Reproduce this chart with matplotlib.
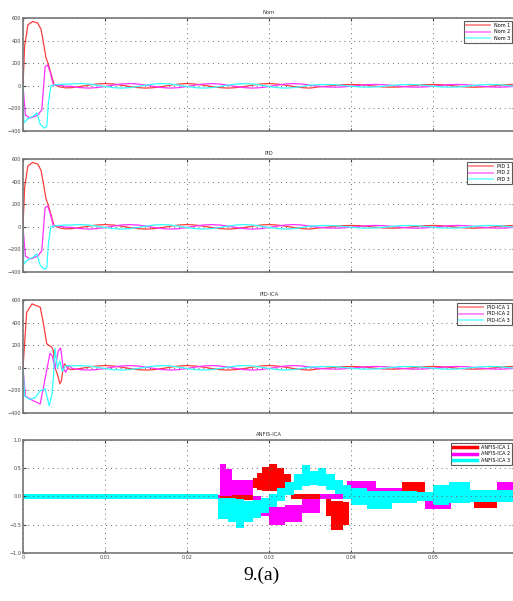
import numpy as np
import matplotlib
matplotlib.use('Agg')
import matplotlib.pyplot as plt

# ---------------- data ----------------
# transient part (t < 0.006), panel "Nom" and "PID" look the same
nom_red_t  = [0, 0.0002, 0.0006, 0.0012, 0.0018, 0.0022, 0.0025, 0.0028, 0.0031, 0.0034, 0.0038, 0.0045, 0.0052]
nom_red_v  = [0, 350, 540, 570, 555, 500, 380, 250, 190, 110, 10, -10, -18]
nom_mag_t  = [0, 0.0003, 0.0009, 0.0018, 0.0023, 0.0027, 0.0030, 0.0033, 0.0037, 0.0045, 0.0052]
nom_mag_v  = [0, -260, -285, -260, -210, 170, 185, 125, 10, 5, -4]
nom_cyan_t = [0, 0.0001, 0.0006, 0.0012, 0.0017, 0.0021, 0.0026, 0.0029, 0.0031, 0.0034, 0.0040, 0.0050]
nom_cyan_v = [0, -330, -290, -270, -240, -340, -375, -360, -150, 0, 10, 15]

ica_red_t  = [0, 0.00045, 0.0011, 0.0021, 0.0025, 0.0029, 0.0035, 0.0037, 0.0039, 0.0043, 0.0045, 0.0047, 0.0049, 0.0051, 0.0055]
ica_red_v  = [0, 490, 566, 537, 390, 212, 183, 153, 6, -83, -142, -112, 6, 35, -9]
ica_mag_t  = [0, 0.0003, 0.0012, 0.0021, 0.0033, 0.0036, 0.0039, 0.0043, 0.0046, 0.0049, 0.0052, 0.0056]
ica_mag_v  = [0, -250, -290, -320, 130, 100, -10, 150, 175, 0, -40, 20]
ica_cyan_t = [0, 0.0002, 0.0008, 0.0015, 0.0021, 0.0027, 0.0032, 0.0035, 0.0037, 0.0039, 0.0042, 0.0045, 0.0048, 0.0052]
ica_cyan_v = [0, -250, -280, -263, -204, -186, -336, -250, -100, 170, 0, 60, -30, 20]

# steady oscillation, t = 0.006 ... 0.060 (step 0.001), same in the three upper panels
steady_t = [0.006, 0.007, 0.008, 0.009, 0.010, 0.011, 0.012, 0.013, 0.014, 0.015,
            0.016, 0.017, 0.018, 0.019, 0.020, 0.021, 0.022, 0.023, 0.024, 0.025,
            0.026, 0.027, 0.028, 0.029, 0.030, 0.031, 0.032, 0.033, 0.034, 0.035,
            0.036, 0.037, 0.038, 0.039, 0.040, 0.041, 0.042, 0.043, 0.044, 0.045,
            0.046, 0.047, 0.048, 0.049, 0.050, 0.051, 0.052, 0.053, 0.054, 0.055,
            0.056, 0.057, 0.058, 0.059, 0.060]
steady_red  = [-16, -6, 6, 16, 20, 16, 6, -6, -16, -20,
               -16, -6, 6, 16, 20, 16, 6, -6, -16, -20,
               -16, -6, 6, 16, 20, 16, 6, -6, -16, -20,
               -10, -4, 4, 10, 12, 10, 4, -4, -10, -12,
               -10, -4, 4, 10, 12, 10, 4, -4, -10, -12,
               -10, -4, 4, 10, 12]
steady_mag  = [-6, -16, -20, -16, -6, 6, 16, 20, 16, 6,
               -6, -16, -20, -16, -6, 6, 16, 20, 16, 6,
               -6, -16, -20, -16, -6, 6, 16, 20, 16, 6,
               -4, -10, -12, -10, -4, 4, 10, 12, 10, 4,
               -4, -10, -12, -10, -4, 4, 10, 12, 10, 4,
               -4, -10, -12, -10, -4]
steady_cyan = [16, 20, 16, 6, -6, -16, -20, -16, -6, 6,
               16, 20, 16, 6, -6, -16, -20, -16, -6, 6,
               16, 20, 16, 6, -6, -16, -20, -16, -6, 6,
               10, 12, 10, 4, -4, -10, -12, -10, -4, 4,
               10, 12, 10, 4, -4, -10, -12, -10, -4, 4,
               10, 12, 10, 4, -4]

# ANFIS-ICA bands (step envelopes, lower / upper)
anf1_t  = [0, 0.0240, 0.0280, 0.0286, 0.0292, 0.0300, 0.0310, 0.0318, 0.0327, 0.0370, 0.0376,
           0.0390, 0.0398, 0.0462, 0.0490, 0.0550, 0.0578, 0.0600]
anf1_lo = [-0.03, -0.06, 0.15, 0.12, 0.10, 0.10, 0.12, 0.15, -0.05, -0.35, -0.60,
           -0.50, -0.03, 0.07, -0.03, -0.21, -0.03, -0.03]
anf1_hi = [0.03, 0.03, 0.32, 0.42, 0.52, 0.57, 0.50, 0.40, 0.05, -0.05, -0.08,
           -0.10, 0.03, 0.25, 0.03, -0.07, 0.03, 0.03]

anf2_t  = [0, 0.0240, 0.0248, 0.0255, 0.0280, 0.0290, 0.0300, 0.0320, 0.0340, 0.0362, 0.0395,
           0.0430, 0.0462, 0.0490, 0.0522, 0.0578, 0.0600]
anf2_lo = [-0.03, 0.0, 0.0, 0.02, -0.15, -0.35, -0.50, -0.45, -0.30, -0.05, 0.08,
           0.04, -0.03, -0.22, -0.05, 0.08, 0.08]
anf2_hi = [0.03, 0.58, 0.48, 0.30, 0.0, -0.10, -0.18, -0.15, -0.05, 0.05, 0.28,
           0.15, 0.05, -0.06, 0.05, 0.25, 0.25]

anf3_t  = [0, 0.0238, 0.0250, 0.0260, 0.0270, 0.0280, 0.0290, 0.0300, 0.0310, 0.0320, 0.0330,
           0.0340, 0.0350, 0.0360, 0.0370, 0.0380, 0.0390, 0.0400, 0.0420, 0.0450, 0.0480,
           0.0500, 0.0520, 0.0545, 0.0600]
anf3_lo = [-0.045, -0.40, -0.45, -0.55, -0.45, -0.38, -0.30, -0.18, -0.08, 0.02, 0.12,
           0.18, 0.20, 0.18, 0.12, 0.05, -0.05, -0.15, -0.22, -0.12, -0.08,
           -0.15, -0.12, -0.10, -0.10]
anf3_hi = [0.045, -0.02, -0.03, -0.05, -0.08, -0.06, -0.02, 0.05, 0.15, 0.25, 0.40,
           0.55, 0.45, 0.50, 0.40, 0.30, 0.20, 0.15, 0.10, 0.10, 0.08,
           0.20, 0.25, 0.12, 0.12]

titles = ['Nom', 'PID', 'PID-ICA', 'ANFIS-ICA']
colors = ['#ff0000', '#ff00ff', '#00ffff']
line_colors = ['#ff3c3c', '#ff30ff', '#30ffff']
xticks = [0, 0.01, 0.02, 0.03, 0.04, 0.05]

# ---------------- figure ----------------
fig = plt.figure(figsize=(5.13, 6.01), dpi=100)
bottoms = [0.782, 0.5474, 0.3128, 0.0799]
axes = [fig.add_axes([0.0448, b, 0.959, 0.188]) for b in bottoms]

def style(ax, title):
    ax.set_xlim(0, 0.06)
    ax.set_xticks(xticks + [0.06])
    ax.grid(True, linestyle=(0, (1, 4)), color='#666666', linewidth=0.7)
    ax.tick_params(direction='in', length=2, labelsize=3.5, colors='#444444', pad=1.5,
                   top=True, right=True)
    for s in ax.spines.values():
        s.set_color('#777777')
        s.set_linewidth(1.2)
    ax.set_title(title, fontsize=3.8, pad=3, color='#333333')

def add_legend(ax):
    leg = ax.legend(loc='upper right', fontsize=3.5, handlelength=5, frameon=True,
                    borderaxespad=0.6, fancybox=False, labelspacing=0.3)
    leg.get_frame().set_edgecolor('#333333')
    leg.get_frame().set_linewidth(0.8)

uppers = [(nom_red_t, nom_red_v, nom_mag_t, nom_mag_v, nom_cyan_t, nom_cyan_v),
          (nom_red_t, nom_red_v, nom_mag_t, nom_mag_v, nom_cyan_t, nom_cyan_v),
          (ica_red_t, ica_red_v, ica_mag_t, ica_mag_v, ica_cyan_t, ica_cyan_v)]
steadies = [steady_red, steady_mag, steady_cyan]

for i in range(3):
    ax = axes[i]
    tr = uppers[i]
    for k in range(3):
        t = list(tr[2 * k]) + steady_t
        v = list(tr[2 * k + 1]) + steadies[k]
        ax.plot(t, v, color=line_colors[k], linewidth=0.9)
        # legend proxy, a bit thicker like the original
        ax.plot([], [], color=line_colors[k], linewidth=1.3, alpha=0.6,
                label='%s %d' % (titles[i], k + 1))
    ax.set_ylim(-400, 600)
    ax.set_yticks([-400, -200, 0, 200, 400, 600])
    style(ax, titles[i])
    ax.set_xticklabels([])
    add_legend(ax)

# bottom panel: ANFIS-ICA
ax = axes[3]
bands = [(anf1_t, anf1_lo, anf1_hi), (anf2_t, anf2_lo, anf2_hi), (anf3_t, anf3_lo, anf3_hi)]
for k, (t, lo, hi) in enumerate(bands):
    ax.fill_between(t, lo, hi, step='post', color=colors[k], linewidth=0)
    ax.plot([], [], color=colors[k], linewidth=2.5, label='%s %d' % (titles[3], k + 1))
ax.set_ylim(-1, 1)
ax.set_yticks([-1, -0.5, 0, 0.5, 1])
style(ax, titles[3])
ax.set_xticklabels(['0', '0.01', '0.02', '0.03', '0.04', '0.05', ''])
add_legend(ax)

fig.text(0.51, 0.043, '9.(a)', fontsize=14, family='Liberation Serif', ha='center', va='center')

plt.savefig('out.png', dpi=100)
